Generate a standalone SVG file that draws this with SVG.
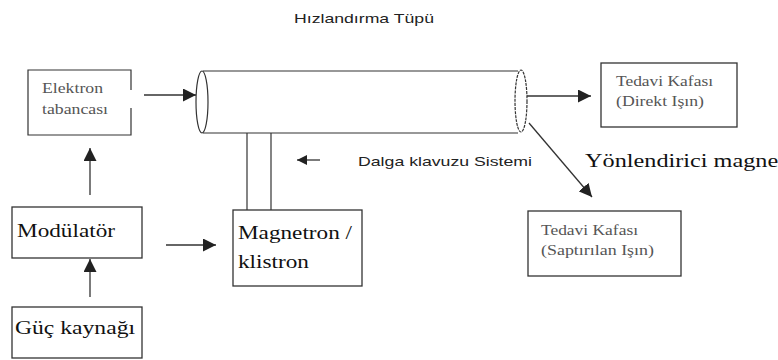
<svg xmlns="http://www.w3.org/2000/svg" width="778" height="360" viewBox="0 0 778 360">
  <defs>
    <marker id="ah" viewBox="0 0 10 10" refX="10" refY="5" markerWidth="10" markerHeight="10" markerUnits="userSpaceOnUse" orient="auto">
      <path d="M0,0 L10,5 L0,10 z" fill="#222"/>
    </marker>
    <marker id="ahL" viewBox="0 0 10 10" refX="10" refY="5" markerWidth="13" markerHeight="13" markerUnits="userSpaceOnUse" orient="auto">
      <path d="M0,0 L10,5 L0,10 z" fill="#222"/>
    </marker>
  </defs>
  <style>
    .box { fill: #fff; stroke: #333; stroke-width: 1.3; }
    .line { fill: none; stroke: #333; stroke-width: 1.2; }
    .conn { fill: none; stroke: #333; stroke-width: 1.3; }
    .soft { font-family: 'Liberation Serif', 'Times New Roman', serif; font-size: 15.5px; fill: #555; }
    .hard { font-family: 'Liberation Serif', 'Times New Roman', serif; font-size: 18px; fill: #111; }
    .sans { font-family: 'Liberation Sans', Arial, sans-serif; font-size: 13px; fill: #222; }
  </style>
  <rect width="778" height="360" fill="#fff"/>

  <!-- accelerator tube -->
  <g id="tube">
    <text class="sans" x="294" y="23" textLength="140" lengthAdjust="spacingAndGlyphs">Hızlandırma Tüpü</text>
    <line class="line" x1="203" y1="71" x2="518" y2="71"/>
    <line class="line" x1="203" y1="133" x2="518" y2="133"/>
    <ellipse class="line" cx="202" cy="102" rx="6" ry="31" fill="#fff"/>
    <ellipse class="line" cx="521" cy="101" rx="6" ry="31" fill="#fff" stroke-dasharray="3 1"/>
  </g>

  <!-- waveguide -->
  <g id="waveguide">
    <line class="line" x1="247" y1="133" x2="247" y2="210"/>
    <line class="line" x1="271" y1="133" x2="271" y2="210"/>
    <text class="sans" x="358" y="166" textLength="174" lengthAdjust="spacingAndGlyphs">Dalga klavuzu Sistemi</text>
  </g>

  <!-- electron gun -->
  <g id="elektron">
    <path class="line" d="M131,90 V70 H28 V135 H131 V108" stroke-width="1.3"/>
    <text class="soft" x="42" y="93" textLength="61" lengthAdjust="spacingAndGlyphs">Elektron</text>
    <text class="soft" x="42" y="114" textLength="66" lengthAdjust="spacingAndGlyphs">tabancası</text>
  </g>

  <!-- direct beam treatment head -->
  <g id="direkt">
    <rect class="box" x="601" y="63" width="136" height="64"/>
    <text class="soft" x="616" y="86" textLength="97" lengthAdjust="spacingAndGlyphs">Tedavi Kafası</text>
    <text class="soft" x="616" y="106" textLength="88" lengthAdjust="spacingAndGlyphs">(Direkt Işın)</text>
  </g>

  <!-- bending magnet label -->
  <g id="magnet">
    <text class="hard" x="585" y="167" textLength="200" lengthAdjust="spacingAndGlyphs">Yönlendirici magnet</text>
  </g>

  <!-- deflected beam treatment head -->
  <g id="saptirilan">
    <rect class="box" x="528" y="211" width="153" height="65"/>
    <text class="soft" x="541" y="235" textLength="97" lengthAdjust="spacingAndGlyphs">Tedavi Kafası</text>
    <text class="soft" x="541" y="255" textLength="113" lengthAdjust="spacingAndGlyphs">(Saptırılan Işın)</text>
  </g>

  <!-- modulator -->
  <g id="modulator">
    <rect class="box" x="12" y="207" width="130" height="51"/>
    <text class="hard" x="17" y="237" textLength="98" lengthAdjust="spacingAndGlyphs">Modülatör</text>
  </g>

  <!-- power supply -->
  <g id="guc">
    <rect class="box" x="12" y="307" width="130" height="51"/>
    <text class="hard" x="15" y="334" textLength="120" lengthAdjust="spacingAndGlyphs">Güç kaynağı</text>
  </g>

  <!-- magnetron / klystron -->
  <g id="magnetron">
    <rect class="box" x="233" y="210" width="129" height="76"/>
    <text class="hard" x="238" y="239" textLength="114" lengthAdjust="spacingAndGlyphs">Magnetron /</text>
    <text class="hard" x="238" y="268" textLength="71" lengthAdjust="spacingAndGlyphs">klistron</text>
  </g>

  <!-- connectors -->
  <g id="connectors">
    <line class="conn" x1="144" y1="95" x2="196" y2="95" marker-end="url(#ahL)"/>
    <line class="conn" x1="527" y1="96" x2="591" y2="96" marker-end="url(#ahL)"/>
    <line class="conn" x1="529" y1="123" x2="592" y2="197" marker-end="url(#ahL)"/>
    <line class="conn" x1="320" y1="160" x2="297" y2="160" marker-end="url(#ah)"/>
    <line class="conn" x1="90" y1="195" x2="90" y2="148" marker-end="url(#ahL)"/>
    <line class="conn" x1="90" y1="297" x2="90" y2="259" marker-end="url(#ahL)"/>
    <line class="conn" x1="166" y1="245" x2="216" y2="245" marker-end="url(#ahL)"/>
  </g>
</svg>
